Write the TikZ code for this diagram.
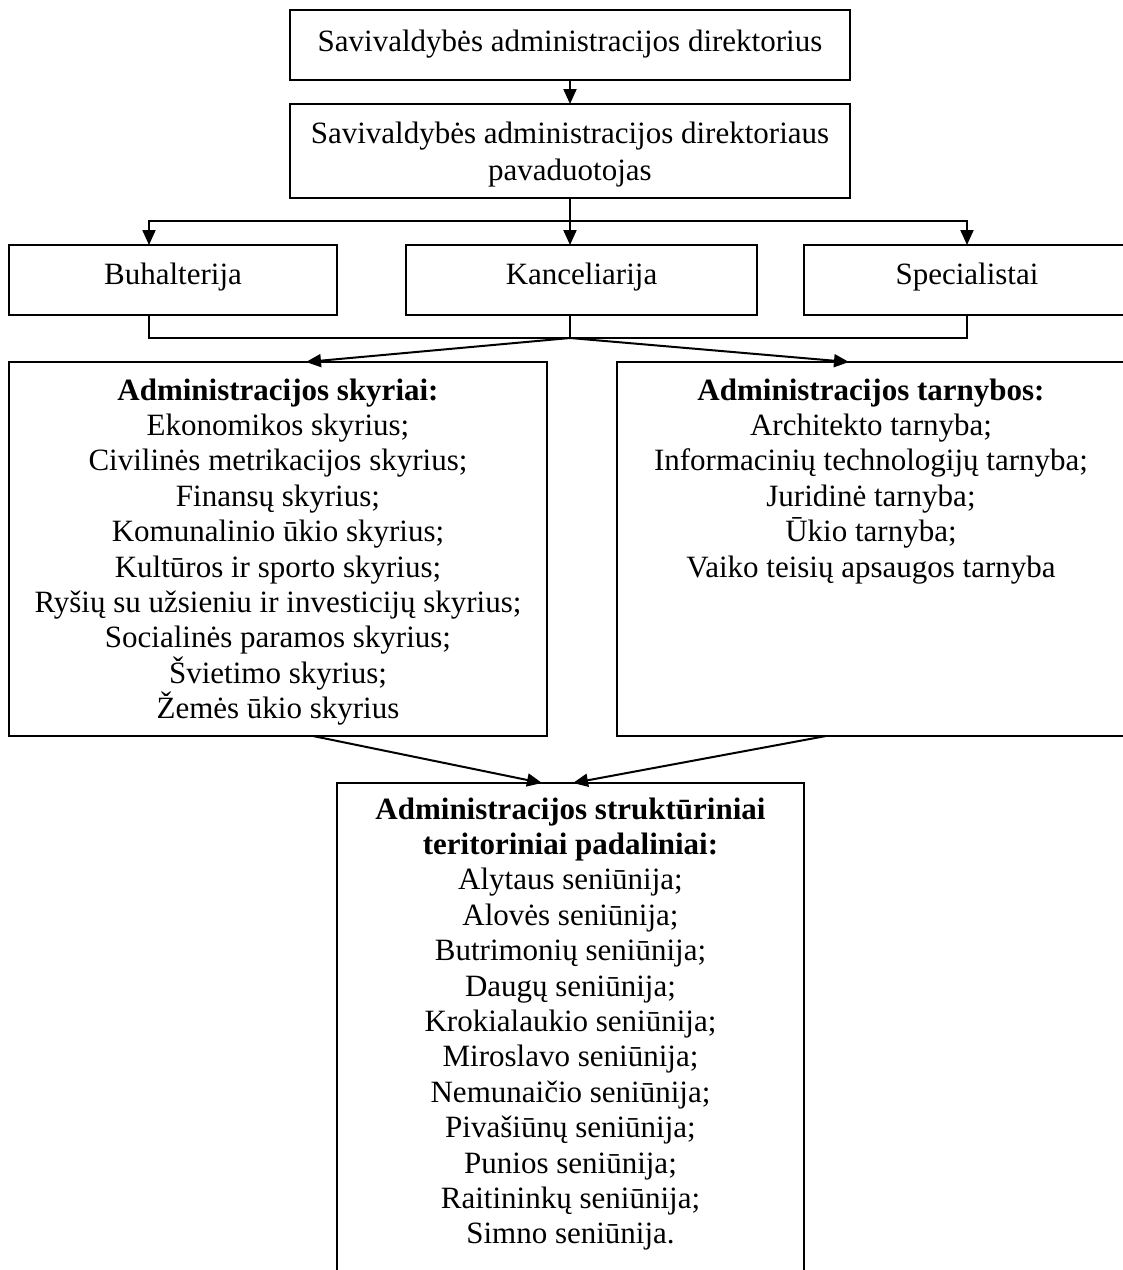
\documentclass[tikz,border=0pt]{standalone}
\usepackage{fontspec}
\setmainfont{Liberation Serif}
\usetikzlibrary{arrows.meta}
\newcommand\bxt[4]{\parbox[c][#1][t]{#2}{\centering\rule{0pt}{#3}#4}}
\begin{document}
\begin{tikzpicture}[x=1pt,y=-1pt,
  box/.style={draw,line width=2pt,inner sep=0pt,outer sep=0pt,font=\fontsize{31}{35.4}\selectfont},
  conn/.style={line width=2pt},
  arr/.style={conn,-{Triangle[length=15pt,width=13pt]}}]
\useasboundingbox (0,0) rectangle (1123,1270);
\fill[white] (0,0) rectangle (1123,1270);
\clip (0,0) rectangle (1123,1270);

\node[box] (dir) at (570,45) {\bxt{70pt}{560pt}{41pt}{Savivaldybės administracijos direktorius}};
\node[box] (dep) at (570,151) {\fontsize{31}{37}\selectfont\bxt{94pt}{560pt}{39pt}{Savivaldybės administracijos direktoriaus\\pavaduotojas}};
\node[box] (buh) at (173,280) {\bxt{70pt}{328pt}{39pt}{Buhalterija}};
\node[box] (kanc) at (581.5,280) {\bxt{70pt}{351pt}{39pt}{Kanceliarija}};
\node[box] (spec) at (967,280) {\bxt{70pt}{326pt}{39pt}{Specialistai}};
\node[box] (sky) at (278,549) {\bxt{374pt}{538pt}{38pt}{\textbf{Administracijos skyriai:}\\Ekonomikos skyrius;\\Civilinės metrikacijos skyrius;\\Finansų skyrius;\\Komunalinio ūkio skyrius;\\Kultūros ir sporto skyrius;\\Ryšių su užsieniu ir investicijų skyrius;\\Socialinės paramos skyrius;\\Švietimo skyrius;\\Žemės ūkio skyrius}};
\node[box] (tarn) at (871,549) {\bxt{374pt}{508pt}{38pt}{\textbf{Administracijos tarnybos:}\\Architekto tarnyba;\\Informacinių technologijų tarnyba;\\Juridinė tarnyba;\\Ūkio tarnyba;\\Vaiko teisių apsaugos tarnyba}};
\node[box] (pad) at (570.5,1041) {\bxt{516pt}{467pt}{36pt}{\textbf{Administracijos struktūriniai}\\\textbf{teritoriniai padaliniai:}\\Alytaus seniūnija;\\Alovės seniūnija;\\Butrimonių seniūnija;\\Daugų seniūnija;\\Krokialaukio seniūnija;\\Miroslavo seniūnija;\\Nemunaičio seniūnija;\\Pivašiūnų seniūnija;\\Punios seniūnija;\\Raitininkų seniūnija;\\Simno seniūnija.}};

\draw[arr] (dir) -- (dep);
\path (dep.south) ++(0,23) coordinate (s1);
\draw[conn] (dep.south) -- (s1);
\draw[arr] (s1) -| ([xshift=-24pt]buh.north);
\draw[arr] (s1) -- (kanc.north -| s1);
\draw[arr] (s1) -| (spec.north);
\path (kanc.south -| s1) ++(0,23) coordinate (s2);
\draw[conn] ([xshift=-24pt]buh.south) |- (spec.south |- s2) -- (spec.south);
\draw[conn] (kanc.south -| s2) -- (s2);
\draw[arr] (s2) -- ([xshift=28pt]sky.north);
\draw[arr] (s2) -- ([xshift=-22pt]tarn.north);
\draw[arr] ([xshift=35pt]sky.south) -- ([xshift=-28.5pt]pad.north);
\draw[arr] ([xshift=-45pt]tarn.south) -- ([xshift=2.5pt]pad.north);
\end{tikzpicture}
\end{document}
